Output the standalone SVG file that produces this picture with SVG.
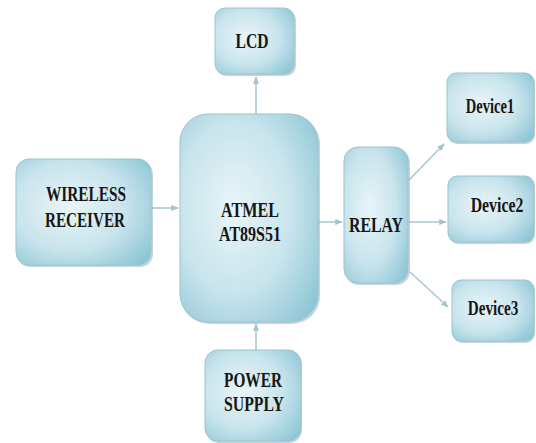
<svg xmlns="http://www.w3.org/2000/svg" width="536" height="443" viewBox="0 0 536 443">
<style>
.box{fill:url(#g);stroke:#9cc3cf;stroke-width:1}
.sh{fill:#8fb3bf;opacity:0.55}
.t{font-family:"Liberation Serif","Times New Roman",serif;font-weight:bold;font-size:22px;fill:#161616;text-anchor:middle}
.c{stroke:#a9c6cf;stroke-width:1.5;fill:none;marker-end:url(#ah)}
</style>
<defs>
<radialGradient id="g" cx="0.4" cy="0.45" r="0.75">
<stop offset="0" stop-color="#e9f5f8"/>
<stop offset="0.55" stop-color="#c8e4ec"/>
<stop offset="1" stop-color="#8cc5d5"/>
</radialGradient>
<marker id="ah" viewBox="0 0 10 10" refX="9" refY="5" markerWidth="5" markerHeight="5" orient="auto">
<path d="M0,1 L10,5 L0,9 z" fill="#a3c3cd"/>
</marker>
</defs>
<rect width="536" height="443" fill="#ffffff"/>
<g id="connectors">
<line class="c" x1="256" y1="114" x2="256" y2="77"/>
<line class="c" x1="152" y1="208" x2="178" y2="208"/>
<line class="c" x1="319" y1="222" x2="342" y2="222"/>
<line class="c" x1="409" y1="222" x2="446" y2="222"/>
<line class="c" x1="409" y1="180" x2="444" y2="144"/>
<line class="c" x1="410" y1="272" x2="448" y2="307"/>
<line class="c" x1="256" y1="350" x2="256" y2="324"/>
</g>
<g id="lcd">
<rect class="sh" x="216" y="10" width="80" height="66" rx="10"/>
<rect class="box" x="215" y="8" width="79" height="66" rx="10"/>
<text class="t" x="252" y="48" textLength="33" lengthAdjust="spacingAndGlyphs">LCD</text>
</g>
<g id="wireless">
<rect class="sh" x="17" y="161" width="136" height="106" rx="13"/>
<rect class="box" x="16" y="159" width="135" height="106" rx="13"/>
<text class="t" x="86" y="201" textLength="80" lengthAdjust="spacingAndGlyphs">WIRELESS</text>
<text class="t" x="85" y="227" textLength="80" lengthAdjust="spacingAndGlyphs">RECEIVER</text>
</g>
<g id="atmel">
<rect class="sh" x="181" y="116" width="139" height="208" rx="28"/>
<rect class="box" x="180" y="114" width="138" height="208" rx="28"/>
<text class="t" x="250" y="217" textLength="58" lengthAdjust="spacingAndGlyphs">ATMEL</text>
<text class="t" x="250" y="241" textLength="62" lengthAdjust="spacingAndGlyphs">AT89S51</text>
</g>
<g id="relay">
<rect class="sh" x="345" y="149" width="65" height="136" rx="14"/>
<rect class="box" x="344" y="147" width="64" height="136" rx="14"/>
<text class="t" x="376" y="232" textLength="54" lengthAdjust="spacingAndGlyphs">RELAY</text>
</g>
<g id="device1">
<rect class="sh" x="448" y="75" width="87" height="69" rx="9"/>
<rect class="box" x="447" y="73" width="87" height="69" rx="9"/>
<text class="t" transform="translate(490,113) scale(0.66,1)" x="0" y="0">Device1</text>
</g>
<g id="device2">
<rect class="sh" x="449" y="178" width="86" height="66" rx="9"/>
<rect class="box" x="448" y="176" width="86" height="66" rx="9"/>
<text class="t" transform="translate(497,212) scale(0.72,1)" x="0" y="0">Device2</text>
</g>
<g id="device3">
<rect class="sh" x="453" y="282" width="82" height="61" rx="9"/>
<rect class="box" x="452" y="280" width="82" height="61" rx="9"/>
<text class="t" transform="translate(493,315) scale(0.69,1)" x="0" y="0">Device3</text>
</g>
<g id="power">
<rect class="sh" x="206" y="352" width="96" height="91" rx="13"/>
<rect class="box" x="205" y="350" width="96" height="91" rx="13"/>
<text class="t" x="253" y="387" textLength="58" lengthAdjust="spacingAndGlyphs">POWER</text>
<text class="t" x="254" y="411" textLength="60" lengthAdjust="spacingAndGlyphs">SUPPLY</text>
</g>
</svg>
